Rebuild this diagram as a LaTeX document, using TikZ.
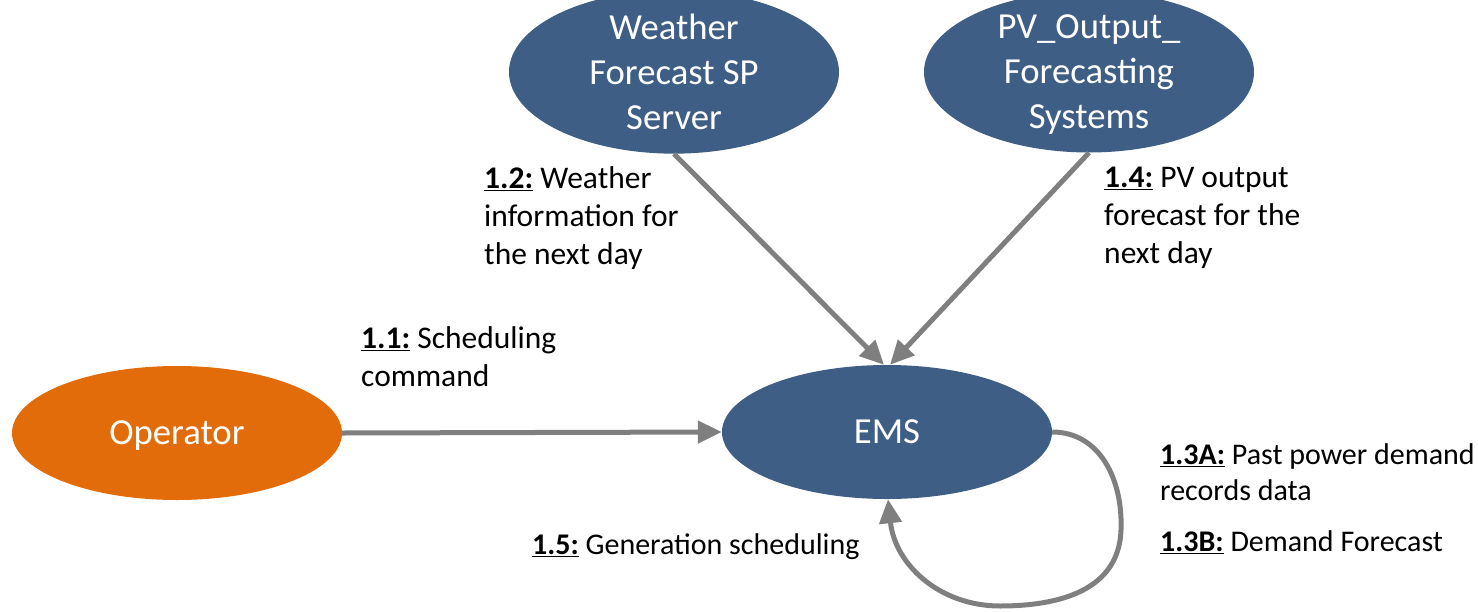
\documentclass[tikz,border=0pt]{standalone}
\usepackage{fontspec}
\setmainfont{Carlito}
\usetikzlibrary{arrows.meta,shapes.geometric}
\definecolor{emsblue}{HTML}{3E5E85}
\definecolor{oporange}{HTML}{E36C0A}
\definecolor{linegray}{HTML}{7F7F7F}
\begin{document}
\begin{tikzpicture}[x=1pt,y=-1pt,
  blob/.style={ellipse, fill=emsblue, draw=none, minimum width=330pt, minimum height=134pt,
    inner sep=0pt, text=white, align=center, text depth=0pt, font=\fontsize{36.7}{45}\selectfont},
  lbl/.style={anchor=north west, inner sep=0pt, align=left, font=\fontsize{31.5}{38}\selectfont},
  slbl/.style={lbl, font=\fontsize{30}{36}\selectfont},
  flow/.style={draw=linegray, line width=5pt, -{Triangle[length=24pt,width=22pt]}}
]
\useasboundingbox (0,0) rectangle (1478,611);
\node[blob] (wx) at (674,72) {Weather\\Forecast SP\\Server};
\node[blob] (pv) at (1089,72) {PV\_Output\_\\Forecasting\\Systems};
\node[blob, fill=oporange] (op) at (177,433) {Operator};
\node[blob] (ems) at (887,432) {EMS};

\draw[flow] (wx.south) -- ([xshift=-3pt]ems.north);
\draw[flow] (pv.south) -- ([xshift=3pt]ems.north);
\draw[flow] (op.east) -- (ems.west);
\coordinate (loopR) at (1121,530);
\coordinate (loopB) at (1000,606);
\draw[flow] (ems.east) .. controls (1100,432) and (1123,480) .. (loopR)
  .. controls (1119,590) and (1060,606) .. (loopB)
  .. controls (940,606) and (895,565) .. ([xshift=1pt]ems.south);

\node[lbl] (l12) at (484,166.5) {\underline{\textbf{1.2:}} Weather\\information for\\the next day};
\node[lbl] (l14) at (1104,166.5) {\underline{\textbf{1.4:}} PV output\\forecast for the\\next day};
\node[lbl] (l11) at (361,326.5) {\underline{\textbf{1.1:}} Scheduling\\command};
\node[slbl] (l13a) at (1160,443.5) {\underline{\textbf{1.3A:}} Past power demand\\records data};
\node[slbl] (l13b) at (1160,530.5) {\underline{\textbf{1.3B:}} Demand Forecast};
\node[slbl] (l15) at (532,533.5) {\underline{\textbf{1.5:}} Generation scheduling};
\end{tikzpicture}
\end{document}
